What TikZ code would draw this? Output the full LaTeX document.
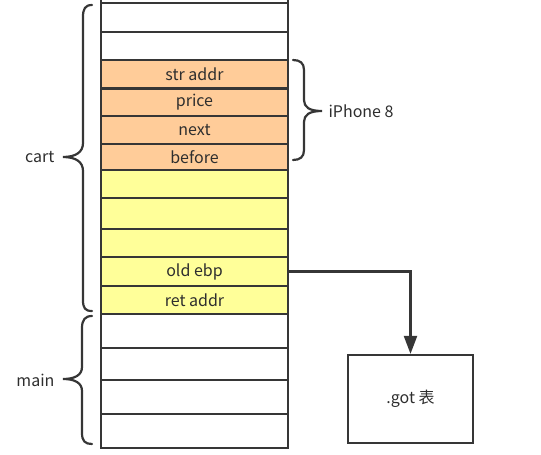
\documentclass[tikz,border=0pt]{standalone}
\usepackage{fontspec}
\setmainfont{Noto Sans CJK SC}
\usepackage{tikz}
\usetikzlibrary{positioning, arrows.meta, calc}

\definecolor{stackOrange}{HTML}{FFCC99}
\definecolor{stackYellow}{HTML}{FFFF99}
\definecolor{lineGray}{HTML}{363636}
\definecolor{textGray}{HTML}{2E2E2E}

\begin{document}
\begin{tikzpicture}[x=1pt, y=-1pt, font=\fontsize{16}{18}\selectfont, text=textGray,
    cell/.style={draw=lineGray, line width=2.2pt, minimum width=187pt, inner sep=0pt},
    brace/.style={draw=lineGray, line width=2.2pt, line cap=round}]

    % Bildgroesse wie Vorlage
    \useasboundingbox (0,0) rectangle (541,455);
    \clip (0,0) rectangle (541,455);

    \def\xStack{194.5}   % Mitte des Stapels
    \def\xBrace{92}      % Ende der linken Klammern

    % --- Stapel (oben -> unten) ---
    \foreach \t/\b/\c/\lab/\nm in {-30/3/white//top, 3/31.7/white//e1, 31.7/60/white//e2,
        60/88.5/stackOrange/str addr/straddr, 88.5/116/stackOrange/price/price,
        116/144/stackOrange/next/next, 144/170/stackOrange/before/before,
        170/198/stackYellow//y1, 198/229/stackYellow//y2, 229/257/stackYellow//y3,
        257/286/stackYellow/old ebp/oldebp, 286/314/stackYellow/ret addr/retaddr,
        314/348/white//m1, 348/380/white//m2, 380/414/white//m3, 414/448/white//m4}
    {
        \pgfmathsetmacro\h{\b-\t}
        \node[cell, fill=\c, minimum height=\h pt] (\nm) at (\xStack, {(\t+\b)/2}) {\lab};
    }

    % --- Klammern ---
    % cart
    \draw[brace] (\xBrace,5) .. controls (85,5) and (83,9) .. (83,17) -- (83,143)
        .. controls (83,152) and (76,157) .. (63,157)
        .. controls (76,157) and (83,162) .. (83,171) -- (83,300)
        .. controls (83,308) and (85,311) .. (\xBrace,311);
    \node[anchor=east] (cart) at (58,157) {cart};

    % main
    \draw[brace] (\xBrace,316) .. controls (85,316) and (82,320) .. (82,328) -- (82,367)
        .. controls (82,375) and (75,379) .. (63,379)
        .. controls (75,379) and (82,383) .. (82,391) -- (82,433)
        .. controls (82,441) and (85,444) .. (\xBrace,444);
    \node[anchor=east] (main) at (58,380) {main};

    % iPhone 8
    \draw[brace] (293,60) .. controls (300,60) and (304,63) .. (304,70) -- (304,100)
        .. controls (304,107) and (309,111) .. (322,111)
        .. controls (309,111) and (304,115) .. (304,122) -- (304,150)
        .. controls (304,157) and (300,160) .. (293,160);
    \node[anchor=west] (iphone) at (325,111) {iPhone 8};

    % --- .got Tabelle ---
    \node[draw=lineGray, line width=2.2pt, minimum width=125pt, minimum height=88pt] (got) at (410.5,399) {.got 表};

    % Pfeil old ebp -> .got
    \draw[draw=lineGray, line width=2.2pt, -{Triangle[length=18pt, width=13pt]}] (oldebp.east) -| (got.north);

\end{tikzpicture}
\end{document}
